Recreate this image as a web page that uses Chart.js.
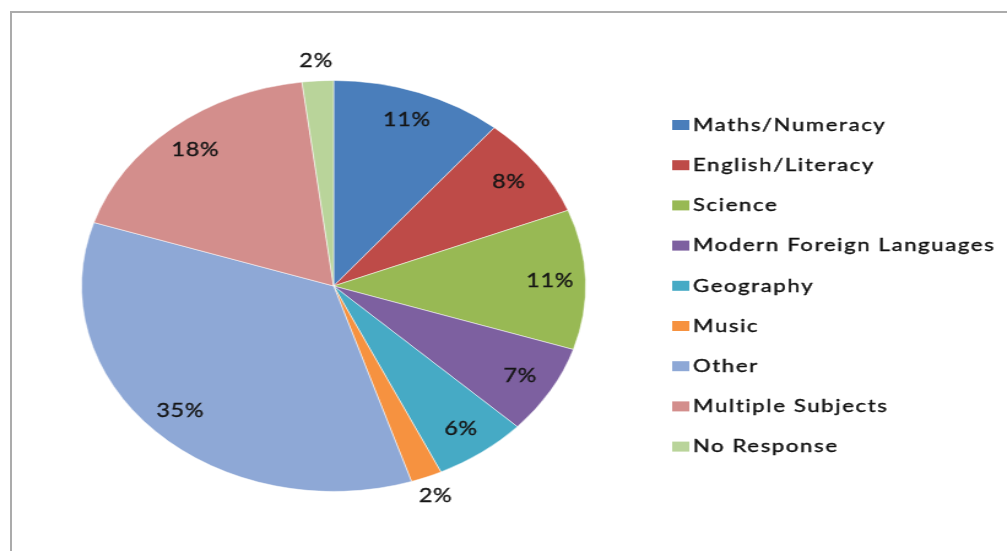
<!DOCTYPE html>
<html>
<head>
<meta charset="utf-8">
<script src="https://cdn.jsdelivr.net/npm/chart.js@4"></script>
<style>
  html, body { margin: 0; padding: 0; background: #fff; }
  .frame {
    position: absolute; left: 10px; top: 11px; right: 0; bottom: 0;
    border-top: 2px solid #ababab; border-left: 2px solid #ababab;
  }
  .stretch {
    position: absolute; left: 0; top: 0;
    width: 821px; height: 551px;
    transform: scaleX(1.2265); transform-origin: 0 0;
  }
</style>
</head>
<body>
<div class="frame"></div>
<div class="stretch">
  <canvas id="pie" width="821" height="551"></canvas>
</div>
<script>
const categories = [
  "Maths/Numeracy",
  "English/Literacy",
  "Science",
  "Modern Foreign Languages",
  "Geography",
  "Music",
  "Other",
  "Multiple Subjects",
  "No Response",
];
const shares = [11, 8, 11, 7, 6, 2, 35, 18, 2];
const sliceColors = [
  "#4a7ebb", "#be4b48", "#98b954", "#7d60a0", "#46aac5",
  "#f69240", "#8ea8d6", "#d38e8c", "#b9d49a",
];

const FONT = "Lato, 'Open Sans', sans-serif";

// percent labels: inside the slice, small ones pushed outside
const sliceLabels = {
  id: "sliceLabels",
  afterDatasetsDraw(chart) {
    const ctx = chart.ctx;
    const meta = chart.getDatasetMeta(0);
    ctx.save();
    ctx.font = "19px " + FONT;
    ctx.letterSpacing = "0.6px";
    ctx.fillStyle = "#161616";
    ctx.strokeStyle = "#161616";
    ctx.lineWidth = 0.35;
    ctx.textAlign = "center";
    ctx.textBaseline = "middle";
    meta.data.forEach((arc, i) => {
      const mid = (arc.startAngle + arc.endAngle) / 2;
      const k = shares[i] <= 2 ? 1.1 : 0.86;
      const x = arc.x + Math.cos(mid) * arc.outerRadius * k;
      const y = arc.y + Math.sin(mid) * arc.outerRadius * k;
      ctx.fillText(shares[i] + "%", x, y);
      ctx.strokeText(shares[i] + "%", x, y);
    });
    ctx.restore();
  },
};

// legend on the right, one row every 40px
const sideLegend = {
  id: "sideLegend",
  afterDraw(chart) {
    const ctx = chart.ctx;
    ctx.save();
    ctx.font = "18px " + FONT;
    ctx.letterSpacing = "1.35px";
    ctx.textBaseline = "middle";
    ctx.lineWidth = 0.4;
    categories.forEach((name, i) => {
      const y = 125 + i * 40.2;
      ctx.fillStyle = sliceColors[i];
      ctx.fillRect(548, y - 5, 14, 10);
      ctx.fillStyle = "#111";
      ctx.strokeStyle = "#111";
      ctx.fillText(name, 565, y);
      ctx.strokeText(name, 565, y);
    });
    ctx.restore();
  },
};

new Chart(document.getElementById("pie"), {
  type: "pie",
  data: {
    labels: categories,
    datasets: [{
      data: shares,
      backgroundColor: sliceColors,
      borderColor: "rgba(255,255,255,0.5)",
      borderWidth: 1,
    }],
  },
  options: {
    responsive: false,
    animation: false,
    devicePixelRatio: 1,
    layout: { padding: { top: 80, bottom: 59, left: 66, right: 343 } },
    plugins: {
      legend: { display: false },
      tooltip: { enabled: false },
    },
  },
  plugins: [sliceLabels, sideLegend],
});
</script>
</body>
</html>
